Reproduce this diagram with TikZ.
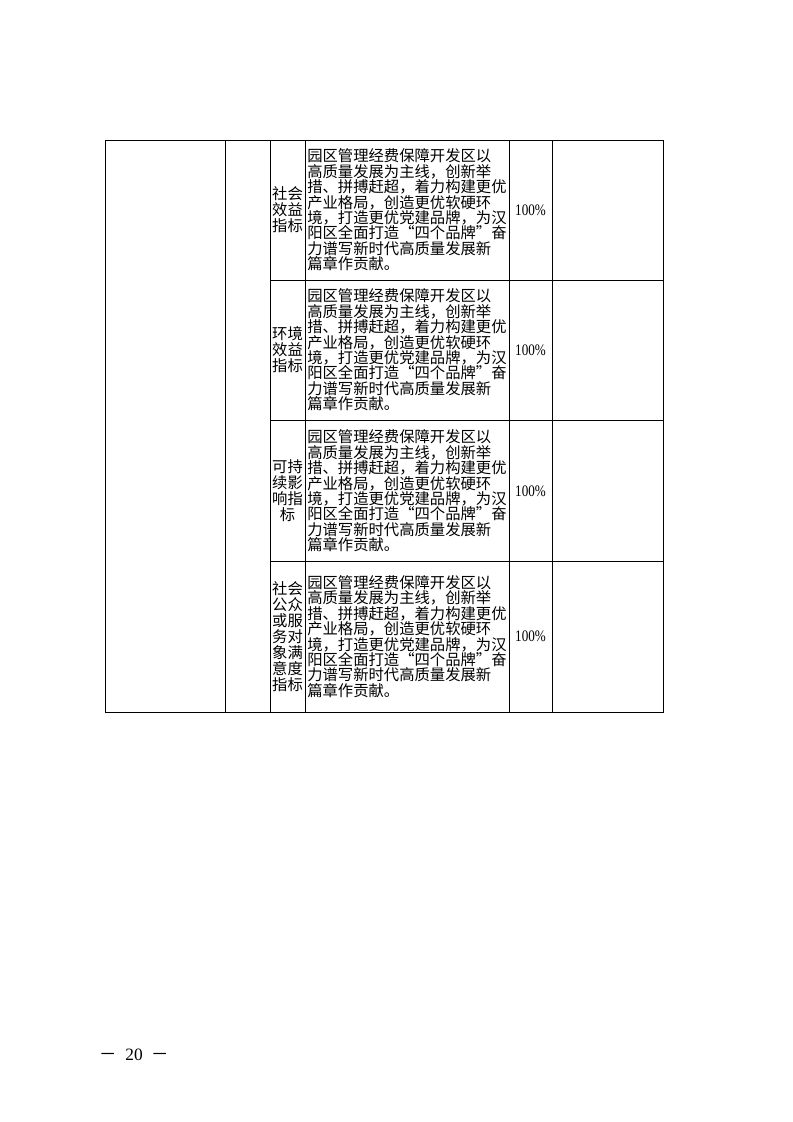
\documentclass[tikz,border=0pt]{standalone}
\usepackage{fontspec}
\setmainfont{Liberation Serif}
\newfontfamily\cjk{Noto Sans CJK SC}
\newfontfamily\numfont[FakeStretch=0.82]{Liberation Serif}
\tikzset{
  desc/.style={font=\cjk\fontsize{11.5}{11.55}\selectfont, align=left, inner sep=0pt, anchor=west},
  lbl/.style={font=\cjk\fontsize{11.5}{12}\selectfont, align=center, inner sep=0pt},
  pct/.style={font=\numfont\fontsize{12}{13}\selectfont, inner sep=0pt},
  rule/.style={line width=0.7pt},
}
\newcommand{\desctext}{园区管理经费保障开发区以\\高质量发展为主线，创新举\\措、拼搏赶超，着力构建更优\\产业格局，创造更优软硬环\\境，打造更优党建品牌，为汉\\阳区全面打造“四个品牌”奋\\力谱写新时代高质量发展新\\篇章作贡献。}
\begin{document}
\begin{tikzpicture}[x=0.75pt,y=-0.75pt]
\useasboundingbox (0,0) rectangle (793,1122);
\draw[rule] (105,140) rectangle (663,712); % frame
\foreach \xx in {225,270,305,509,552} \draw[rule] (\xx,140) -- (\xx,712); % columns
\foreach \yy in {280,420.5,561} \draw[rule] (270,\yy) -- (663,\yy); % rows
\foreach \yy/\nm/\lab in {210/soc/{社会\\效益\\指标}, 350/env/{环境\\效益\\指标}, 491/sus/{可持\\续影\\响指\\标}, 636.5/sat/{社会\\公众\\或服\\务对\\象满\\意度\\指标}} {
  \node[lbl] (lab\nm) at (287.5,\yy) {\lab};
  \node[desc] (txt\nm) at (307,\yy) {\desctext};
  \node[pct] (pct\nm) at (530.5,\yy) {100\%};
}
\node[font=\fontsize{13}{14}\selectfont, inner sep=0pt] (page) at (134,1055) {{\cjk －}\enspace 20\enspace{\cjk －}};
\end{tikzpicture}
\end{document}
